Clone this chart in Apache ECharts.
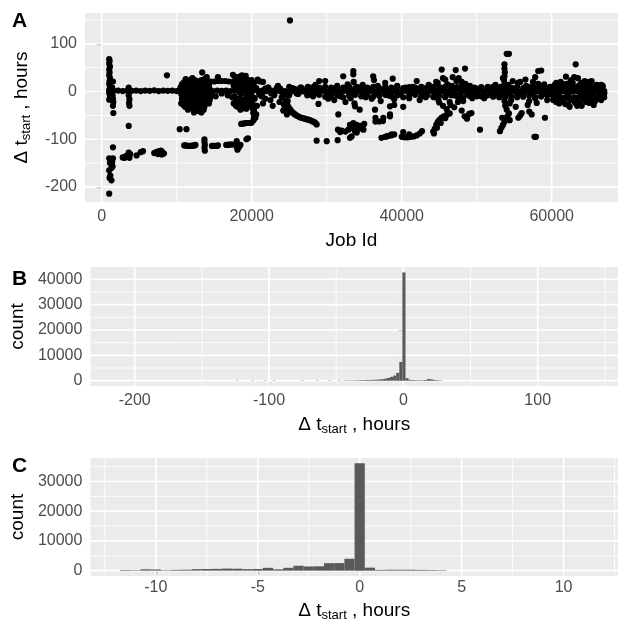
<!DOCTYPE html>
<html><head><meta charset="utf-8">
<script src="https://cdn.jsdelivr.net/npm/echarts@6/dist/echarts.min.js"></script>
<style>html,body{margin:0;padding:0;background:#fff}#c{width:618px;height:625px}</style>
</head><body><div id="c"></div>
<script>
// ---------- tick labels / grid breaks ----------
const aXTicks = [0, 20000, 40000, 60000];
const aXMinor = [10000, 30000, 50000];
const aYTicks = [-200, -100, 0, 100];
const aYMinor = [-150, -50, 50, 150];
const bXTicks = [-200, -100, 0, 100];
const bXMinor = [-150, -50, 50, 150];
const bYTicks = [0, 10000, 20000, 30000, 40000];
const bYMinor = [5000, 15000, 25000, 35000];
const cXTicks = [-10, -5, 0, 5, 10];
const cXMinor = [-12.5, -7.5, -2.5, 2.5, 7.5, 12.5];
const cYTicks = [0, 10000, 20000, 30000];
const cYMinor = [5000, 15000, 25000, 35000];

// ---------- panel A: job id vs delta t_start (hours) ----------
const bandZero = [[1000,2],[1600,1.5],[2200,2],[2800,1],[3400,2],[4000,1.5],[4600,2],[5200,1],[5800,2],[6400,1.5],[7000,2.5],[7600,1],[8200,2],[8800,1.5],[9400,2],[10000,1],[10600,2],[11200,1.5],[11800,2.5],[12400,1],[13000,2],[13600,1.5],[14200,2],[14800,1],[15400,2],[16000,1.5],[16600,2],[17200,1],[17800,2],[18400,1.5],[19000,2],[19600,1],[20200,2],[20800,1.5],[21400,2],[22000,1],[22600,2],[23200,1.5],[23800,0.5],[24400,1],[25000,1.5],[25600,0.5],[26200,1],[26800,0],[27400,1],[28000,0.5],[28600,1],[29200,0],[29800,1],[30400,0.5],[31000,1],[31600,0],[32200,1],[32800,0.5],[33400,1],[34000,0],[34600,1],[35200,0.5],[35800,1],[36400,0],[37000,1],[37600,0.5],[38200,1],[38800,0],[39400,1],[40000,0.5],[40600,1],[41200,0],[41800,1],[42400,0.5],[43000,1],[43600,0],[44200,1],[44800,0.5],[45400,1],[46000,0],[46600,1],[47200,0.5],[47800,1],[48400,0],[49000,1],[49600,0.5],[50200,1],[50800,0],[51400,1],[52000,0.5],[52600,1],[53200,0],[53800,1],[54400,0.5],[55000,1],[55600,0],[56200,1],[56800,0.5],[57400,1],[58000,0],[58600,1],[59200,0.5],[59800,1],[60400,0],[61000,1],[61600,0.5],[62200,1],[62800,0],[63400,1],[64000,0.5],[64600,1],[65200,0],[65800,1],[66400,0.5],[67000,1]];
const bandMid = [[20600,7],[21400,-5],[22200,8],[23000,-6],[23800,6],[24600,-7],[25400,7],[26200,-5],[21000,-6],[21800,6],[22600,-4],[23400,8],[24200,-5],[25000,-8],[25800,5],[26600,8]];
const bandUpper = [[27400,7],[28200,9],[29000,8],[29800,10],[30600,7],[31400,9],[32200,8],[33000,10],[33800,7],[34600,9],[35400,8],[36200,10],[37000,7],[37800,9],[38600,8],[39400,10],[40200,7],[41000,9],[41800,8],[42600,10],[43400,7],[44200,9],[45000,8],[45800,10],[46600,7],[47400,9],[48200,8],[49000,10],[49800,7],[50600,9],[51400,8],[52200,10],[53000,7],[53800,9],[54600,8],[55400,10],[56200,7],[57000,9],[57800,8],[58600,10],[59400,7],[60200,9],[61000,8],[61800,10],[62600,7],[63400,9],[64200,8],[65000,10],[65800,7],[66600,9]];
const bandLower = [[27400,-8],[28200,-10],[29000,-7],[29800,-11],[30600,-9],[31400,-8],[32200,-12],[33000,-9],[33800,-7],[34600,-10],[35400,-8],[36200,-11],[37000,-9],[37800,-7],[38600,-10],[39400,-8],[40200,-12],[41000,-9],[41800,-7],[42600,-10],[43400,-8],[44200,-11],[45000,-9],[45800,-12],[46600,-8],[47400,-10],[48200,-13],[49000,-9],[49800,-7],[50600,-10],[51400,-8],[52200,-11],[53000,-9],[53800,-12],[54600,-10],[55400,-8],[56200,-11],[57000,-9],[57800,-12],[58600,-10],[59400,-8],[60200,-11],[61000,-14],[61800,-12],[62600,-15],[63400,-13],[64200,-16],[65000,-12],[65800,-14],[66600,-10]];
const bandInner = [[27800,3],[28600,-3],[29400,4],[30200,-4],[31000,3],[31800,-3],[32600,4],[33400,-4],[34200,3],[35000,-3],[35800,4],[36600,-4],[37400,3],[38200,-3],[39000,4],[39800,-4],[40600,3],[41400,-3],[42200,4],[43000,-4],[43800,3],[44600,-3],[45400,4],[46200,-4],[47000,3],[47800,-3],[48600,4],[49400,-4],[50200,3],[51000,-3],[51800,4],[52600,-4],[53400,3],[54200,-3],[55000,4],[55800,-4],[56600,3],[57400,-3],[58200,4],[59000,-4],[59800,3],[60600,-3],[61400,4],[62200,-4],[63000,3],[63800,-3],[64600,4],[65400,-4],[66200,3],[67000,-3]];
const earlySpike = [[1000,68],[1050,64],[1000,58],[1100,52],[1000,46],[1050,40],[1000,34],[1100,28],[1050,22],[1000,16],[1100,10],[1050,5],[1000,-3],[1100,-9],[1150,-15],[1500,21],[1450,-8],[1500,-15],[1550,-22],[1500,-30],[1550,-45],[1000,-17],[1400,8]];
const earlyLow = [[1000,-214],[1050,-181],[1300,-186],[1150,-176],[1000,-165],[1300,-160],[1450,-157],[1100,-150],[1400,-147],[1250,-142],[1000,-140],[1500,-140],[1500,-117],[1350,-153],[2800,-138],[3000,-139],[3100,-138],[3200,-136],[3350,-135],[3500,-133],[3600,-128],[3700,-139],[3800,-131],[4650,-134],[5200,-127],[5500,-125],[7000,-129],[7150,-128],[7300,-127],[7450,-126],[7600,-126],[7750,-125],[7900,-124],[8100,-127],[8300,-130],[8000,-132],[7500,-131]];
const earlyMisc = [[3600,-72],[3600,8],[3650,0],[3600,-8],[3700,-16],[3650,-24],[3700,-30],[8700,34]];
const midLow = [[10400,-79],[11300,-79],[11000,-113],[11200,-113],[11400,-114],[11600,-114],[11800,-114],[12000,-114],[12200,-113],[12400,-113],[12500,-112],[13700,-100],[13700,-106],[13750,-112],[13700,-118],[13750,-124],[14700,-114],[14900,-114],[15100,-114],[15300,-114],[15500,-113],[16600,-112],[16800,-112],[17000,-111],[17200,-111],[17400,-111],[18000,-104],[18050,-110],[18000,-116],[18100,-122],[18300,-117],[18500,-112],[19300,-100],[19500,-98],[18600,-68],[18800,-67],[19000,-67],[19200,-66],[19400,-66],[19600,-66],[19800,-66],[20000,-65]];
const cluster12k = [[10500,8],[10600,-5],[10700,15],[10800,-12],[10900,3],[11000,-20],[11100,22],[11200,-8],[11300,10],[11400,-28],[11500,18],[11600,-15],[11700,5],[11800,-35],[11900,25],[12000,-22],[12100,28],[12200,-10],[12300,12],[12400,-40],[12500,-30],[12600,20],[12700,-18],[12800,6],[12900,-25],[13000,15],[13100,-42],[13200,-5],[13300,24],[13400,40],[13500,-14],[13600,8],[13700,-32],[13800,18],[13900,-20],[14000,30],[14100,-8],[14200,12],[14300,-25],[14400,5],[14500,-12],[10800,12],[11000,6],[11200,14],[11400,-2],[11600,8],[11800,-6],[12000,4],[12200,16],[12400,-18],[12600,-4],[12800,-12],[13000,-28],[13200,10],[13400,-22],[13600,-38],[13800,-8],[14000,-16],[14200,20],[11500,-38],[12300,-44],[11900,-25],[12700,-34],[13300,-44],[10600,-25],[10900,-28]];
const cluster12kB = [[10700,-15],[10900,18],[11100,-32],[11300,-18],[11500,4],[11700,-22],[11900,10],[12100,-12],[12300,-28],[12500,8],[12700,22],[12900,-8],[13100,18],[13300,-14],[13500,6],[13700,26],[13900,0],[14100,-22],[14300,14],[11200,26],[11600,20],[12000,16],[12400,24],[12800,-40],[13200,-34],[13600,-24],[12600,-20],[12200,-36],[11800,-16],[11000,-8],[10800,-20],[14400,-18],[14000,8],[12900,12],[12500,-16]];
const upperArc = [[14000,20],[14500,21],[15000,21],[15500,22],[16000,22],[16500,22],[17000,21],[17500,20],[14200,18],[15500,30],[14500,-6],[15200,-10],[16000,-4],[16800,-8],[17400,-12]];
const cluster19k = [[17500,35],[17600,12],[17700,-10],[17800,25],[17900,-20],[18000,30],[18100,5],[18200,-28],[18300,18],[18400,-15],[18500,32],[18600,-5],[18700,22],[18800,-32],[18900,10],[19000,30],[19100,-22],[19200,15],[19300,-12],[19400,25],[19500,-30],[19600,8],[19700,-18],[19800,20],[19900,-8],[20000,12],[20100,-25],[20200,5],[20300,-40],[20400,-15],[20500,-55],[20600,-48],[20300,18],[20800,25],[18800,28],[19200,33],[18400,26],[17900,-30],[18600,-25],[19000,-35],[19400,-5],[19800,-28],[20000,-20],[20700,-30],[20100,-35],[20200,-45],[20300,-55],[20250,-60],[21100,21],[21500,20]];
const cluster19kB = [[17600,-25],[17800,8],[18000,-15],[18200,14],[18400,-2],[18600,12],[18800,-18],[19000,18],[19200,-28],[19400,10],[19600,-20],[19800,4],[20000,24],[18100,-32],[18500,-38],[18900,-22],[19300,-36],[19700,-6],[17700,18],[18300,30],[18700,34],[19100,28],[19500,20],[19900,22],[20200,-12],[20400,8]];
const mid25k = [[21000,22],[21300,-10],[21800,-15],[22200,8],[22500,-18],[23000,-8],[23300,6],[23700,-22],[24000,-12],[24300,-28],[24600,-35],[24800,-20],[25000,10],[25500,6],[26000,-4],[26500,8],[21500,-25],[22800,-30],[23500,12],[24200,-40],[24700,-48],[25100,149]];
const curve27k = [[24500,-20],[24700,-26],[24800,-30],[24900,-33],[24600,-38],[25100,-37],[25200,-40],[25350,-42],[25500,-45],[25600,-46],[25770,-48],[25950,-50],[26200,-52],[26430,-54],[26660,-55],[26880,-56],[27100,-57],[27300,-58],[27550,-59],[27780,-60],[28000,-62],[28180,-63],[28350,-64],[28500,-66],[28660,-69],[28660,-103],[30000,-104],[31460,-102]];
const band35k = [[27500,10],[28000,-8],[28500,14],[28900,-26],[29000,22],[29500,6],[29800,22],[30200,-15],[30600,8],[31000,-18],[31400,12],[31800,-10],[32200,32],[32500,-22],[32800,15],[33200,-14],[33550,43],[33550,36],[33600,20],[33700,-25],[34000,10],[34400,-38],[34800,14],[35200,-12],[35600,6],[36000,-15],[36200,32],[36300,24],[36440,-38],[36500,-55],[36800,12],[37200,-20],[37550,-55],[37800,18],[38200,-8],[38800,27],[39000,-16],[39400,12],[39800,-6],[40200,-32],[40500,8],[41000,-14],[41500,10],[42000,22],[42400,-18],[42800,8],[43200,-12],[43600,14],[31550,-48],[33770,-31],[38440,-52],[38440,-31],[39000,-28]];
const low35k = [[31500,-80],[32000,-82],[32500,-84],[32900,-80],[31800,-85],[33100,-70],[33400,-75],[33700,-80],[34000,-86],[34300,-78],[33550,-66],[34000,-70],[34500,-72],[35000,-68],[34900,-80],[33330,-94],[33100,-97],[33770,-83],[36500,-63],[37000,-63],[37500,-62],[38440,-48],[37300,-97],[37800,-95],[38200,-93],[38600,-92],[39000,-90],[38000,-94],[38660,-90],[40000,-95],[40400,-96],[40800,-96],[41200,-95],[41600,-94],[42000,-92],[42400,-88],[42700,-83],[40200,-85],[41000,-90]];
const rise45k = [[44200,-84],[44400,-78],[44600,-70],[44800,-64],[45000,-60],[45300,-55],[45600,-52],[46000,-49],[46400,-46],[44300,-88],[44700,-76],[45200,-66],[45800,-56],[45000,-23],[45500,-30],[46000,-37],[46500,-28],[47000,-33],[47500,-22],[48000,-40],[48400,-52],[49300,-45],[48700,-57],[49000,-47],[50440,-80]];
const band47k = [[45330,46],[47200,45],[48440,48],[46800,30],[47600,28],[45800,25],[48000,20],[44800,18],[44000,10],[44300,-12],[44600,20],[44900,-18],[45200,8],[45500,28],[45800,-10],[46100,15],[46400,-22],[46700,12],[47000,-8],[47300,22],[47600,-15],[47900,10],[48200,-20],[48500,16],[48800,-6],[49100,12],[49400,-14],[49700,8],[50000,-10],[50500,6],[51000,-14],[51500,10],[52000,-8],[52500,14],[53000,-12]];
const spike54k = [[53700,57],[53700,48],[53750,40],[53700,32],[53650,24],[53700,16],[53750,-10],[53700,-20],[54000,79],[54300,79],[53800,-30],[54000,-38],[53100,-83],[53300,-76],[53500,-70],[53700,-64],[53900,-58],[54100,-52],[54300,-46],[54400,-60],[53400,-55],[55550,-55],[55800,-50],[57330,-48],[59100,-55],[57700,-95],[57900,-95],[56000,-45],[57000,-42]];
const band57k = [[58200,43],[58600,44],[57800,30],[57500,20],[56500,25],[55500,18],[59000,15],[54800,22],[53500,28],[53200,10],[53600,-8],[54200,14],[54600,-18],[55000,6],[55400,-12],[55800,20],[56200,-6],[56600,12],[57000,-20],[57400,8],[57800,-14],[58200,16],[58600,-10],[59000,4],[59400,-18],[59800,10],[60200,-8],[54400,-25],[56800,-28],[58000,-24],[55200,-32]];
const band64k = [[63200,57],[61900,31],[65330,22],[62500,20],[63000,30],[63500,28],[64000,18],[64500,12],[60400,12],[60800,-10],[61200,8],[61600,-20],[62000,14],[62400,-16],[62800,10],[63200,-24],[63600,6],[64000,-12],[64400,18],[64800,-8],[65200,10],[65600,-18],[66000,6],[66400,-10],[66800,8],[67000,-4],[61000,-25],[62200,-28],[63400,-30],[64600,-22],[65400,-20],[66200,-15],[60600,18],[61400,16],[62600,24],[63800,15],[65000,20],[66600,14],[63100,-23],[64900,-14]];
const band64kB = [[60200,-18],[60600,-22],[61000,-5],[61400,-14],[61800,-26],[62200,-8],[62600,-18],[63000,-12],[63400,-20],[63800,-26],[64200,-6],[64600,-16],[65000,-24],[65400,-8],[65800,-20],[66200,-4],[66600,-18],[67000,-12],[60400,14],[61200,20],[62000,16],[62800,18],[63600,12],[64400,22],[65200,16],[66000,14],[66800,12],[64000,-30],[62400,-32],[65600,-28]];

// ---------- panel B: histogram, all values ----------
const bBinWidth = 2.3;
const bBinLeft = [-124.9,-113.4,-104.2,-97.3,-76.6,-65.1,-55.9,-49.0,-44.4,-42.1,-39.8,-37.5,-35.2,-32.9,-30.6,-28.3,-26.0,-23.7,-21.4,-19.1,-16.8,-14.5,-12.2,-9.9,-7.6,-5.3,-3.0,-0.7,1.6,3.9,6.2,8.5,10.8,13.1,15.4,17.7,20.0,22.3,24.6,26.9];
const bCounts  = [30,40,50,120,100,40,60,60,80,100,100,150,150,250,250,300,300,350,400,500,600,800,1100,1500,2000,3100,7400,42700,1000,350,250,200,200,200,300,700,550,300,200,100];

// ---------- panel C: histogram, |dt| < 12 h ----------
const cBinWidth = 0.5;
const cBinLeft = [-11.75,-11.25,-10.75,-10.25,-9.75,-9.25,-8.75,-8.25,-7.75,-7.25,-6.75,-6.25,-5.75,-5.25,-4.75,-4.25,-3.75,-3.25,-2.75,-2.25,-1.75,-1.25,-0.75,-0.25,0.25,0.75,1.25,1.75,2.25,2.75,3.25,3.75];
const cCounts  = [200,150,450,400,150,250,300,500,550,600,700,650,500,550,950,450,950,1650,1400,1450,2500,2550,4000,36100,1000,250,300,300,300,250,200,150];

// ---------- build ----------
const FONT = '"Liberation Sans", Arial, sans-serif';
const scatterA = [].concat(bandZero, bandMid, bandUpper, bandLower, bandInner, earlySpike, earlyLow, earlyMisc, midLow,
  cluster12k, cluster12kB, upperArc, cluster19k, cluster19kB, mid25k, curve27k, band35k, low35k, rise45k, band47k,
  spike54k, band57k, band64k, band64kB);

function gridItems(xMaj, xMin, yMaj, yMin) {
  const out = [];
  xMin.forEach(v => out.push([v, 0, 1]));
  yMin.forEach(v => out.push([0, v, 3]));
  xMaj.forEach(v => out.push([v, 0, 0]));
  yMaj.forEach(v => out.push([0, v, 2]));
  return out;
}
function gridRender(params, api) {
  const cs = params.coordSys;
  const kind = api.value(2);
  const w = (kind === 0 || kind === 2) ? 1.7 : 0.85;
  if (kind < 2) {
    const x = api.coord([api.value(0), 0])[0];
    if (x < cs.x - 1 || x > cs.x + cs.width + 1) return null;
    return {type: 'line', shape: {x1: x, y1: cs.y, x2: x, y2: cs.y + cs.height}, style: {stroke: '#ffffff', lineWidth: w}};
  }
  const y = api.coord([0, api.value(1)])[1];
  if (y < cs.y - 1 || y > cs.y + cs.height + 1) return null;
  return {type: 'line', shape: {x1: cs.x, y1: y, x2: cs.x + cs.width, y2: y}, style: {stroke: '#ffffff', lineWidth: w}};
}
function histRender(params, api) {
  const p0 = api.coord([api.value(0), api.value(2)]);
  const p1 = api.coord([api.value(1), 0]);
  return {type: 'rect', shape: {x: p0[0], y: p0[1], width: p1[0] - p0[0], height: Math.max(p1[1] - p0[1], 0.3)}, style: {fill: '#595959'}};
}
const histB = bBinLeft.map((l, i) => [l, l + bBinWidth, bCounts[i]]);
const histC = cBinLeft.map((l, i) => [l, l + cBinWidth, cCounts[i]]);

const deltaName = '{a|\u0394 t}{s|start}{a| , hours}';
const deltaRich = {
  a: {fontSize: 19, lineHeight: 22, color: '#000', fontFamily: FONT},
  s: {fontSize: 13, lineHeight: 22, verticalAlign: 'bottom', color: '#000', fontFamily: FONT}
};
function axis(gridIndex, min, max, ticks, extra, labelMargin, tickLen) {
  return Object.assign({
    gridIndex, type: 'value', min, max,
    axisLine: {show: false},
    splitLine: {show: false},
    axisTick: {show: true, length: tickLen || 5, lineStyle: {color: '#333333', width: 1.1}, customValues: ticks},
    axisLabel: {customValues: ticks, formatter: v => String(v), color: '#4D4D4D', fontSize: 16, fontFamily: FONT, margin: labelMargin || 8},
    nameLocation: 'middle'
  }, extra);
}

const option = {
  animation: false,
  backgroundColor: '#ffffff',
  grid: [
    {left: 85, top: 13, right: 0, height: 189, show: true, backgroundColor: '#EBEBEB', borderWidth: 0},
    {left: 90, top: 267, right: 0, height: 119, show: true, backgroundColor: '#EBEBEB', borderWidth: 0},
    {left: 90, top: 458, right: 0, height: 118, show: true, backgroundColor: '#EBEBEB', borderWidth: 0}
  ],
  xAxis: [
    axis(0, -2227, 68840, aXTicks, {name: 'Job Id', nameGap: 29, nameTextStyle: {fontSize: 19, color: '#000', fontFamily: FONT}}, 7),
    axis(1, -233, 159.8, bXTicks, {name: deltaName, nameGap: 28, nameTextStyle: {rich: deltaRich}}, 7),
    axis(2, -13.21, 12.67, cXTicks, {name: deltaName, nameGap: 24, nameTextStyle: {rich: deltaRich}}, 4, 4)
  ],
  yAxis: [
    axis(0, -231.5, 164.5, aYTicks, {name: deltaName, nameGap: 52, nameRotate: 90, nameTextStyle: {rich: deltaRich}}, 8),
    axis(1, -2085, 44840, bYTicks, {name: 'count', nameGap: 60, nameRotate: 90, nameTextStyle: {fontSize: 19, color: '#000', fontFamily: FONT}}, 8),
    axis(2, -1805, 37905, cYTicks, {name: 'count', nameGap: 60, nameRotate: 90, nameTextStyle: {fontSize: 19, color: '#000', fontFamily: FONT}}, 8)
  ],
  graphic: [
    {type: 'text', left: 12, top: 11, style: {text: 'A', fontSize: 21, fontWeight: 'bold', fontFamily: FONT, fill: '#000'}},
    {type: 'text', left: 12, top: 269, style: {text: 'B', fontSize: 21, fontWeight: 'bold', fontFamily: FONT, fill: '#000'}},
    {type: 'text', left: 12, top: 456, style: {text: 'C', fontSize: 21, fontWeight: 'bold', fontFamily: FONT, fill: '#000'}}
  ],
  series: [
    {type: 'custom', xAxisIndex: 0, yAxisIndex: 0, z: 1, silent: true, renderItem: gridRender, data: gridItems(aXTicks, aXMinor, aYTicks, aYMinor)},
    {type: 'scatter', xAxisIndex: 0, yAxisIndex: 0, z: 3, silent: true, symbol: 'circle', symbolSize: 6.2, itemStyle: {color: '#000000', opacity: 1}, data: scatterA, large: false},
    {type: 'custom', xAxisIndex: 1, yAxisIndex: 1, z: 1, silent: true, renderItem: gridRender, data: gridItems(bXTicks, bXMinor, bYTicks, bYMinor)},
    {type: 'custom', xAxisIndex: 1, yAxisIndex: 1, z: 3, silent: true, renderItem: histRender, encode: {x: [0, 1], y: 2}, data: histB},
    {type: 'custom', xAxisIndex: 2, yAxisIndex: 2, z: 1, silent: true, renderItem: gridRender, data: gridItems(cXTicks, cXMinor, cYTicks, cYMinor)},
    {type: 'custom', xAxisIndex: 2, yAxisIndex: 2, z: 3, silent: true, renderItem: histRender, encode: {x: [0, 1], y: 2}, data: histC}
  ]
};
const chart = echarts.init(document.getElementById('c'), null, {renderer: 'canvas'});
chart.setOption(option);
</script></body></html>
